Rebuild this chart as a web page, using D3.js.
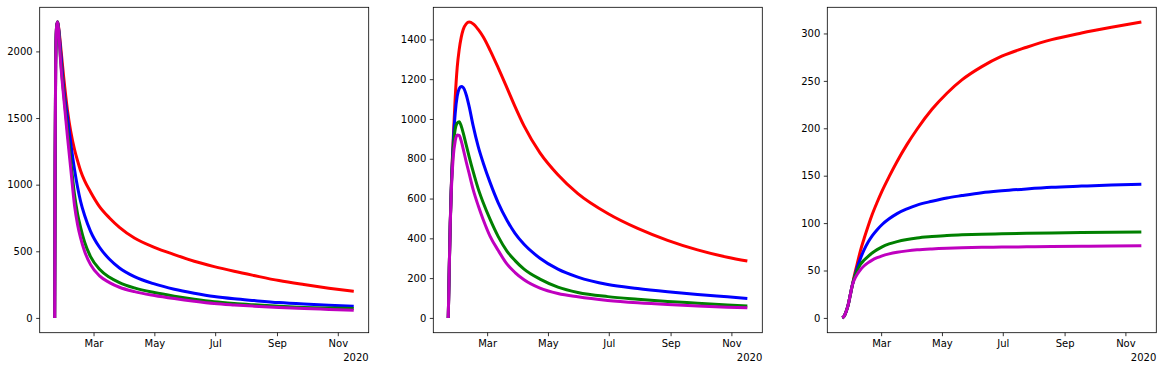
<!DOCTYPE html>
<html lang="en">
<head>
<meta charset="UTF-8">
<title>Three panels</title>
<script src="https://d3js.org/d3.v7.min.js"></script>
<style>
  body { margin: 0; background: #fff; }
  svg text { font-family: "DejaVu Sans", sans-serif; font-size: 10px; fill: #000; }
</style>
</head>
<body>
<script>
// day 0 = 22 Jan 2020
var startDate = Date.UTC(2020, 0, 22);
var dayMs = 86400000;

var seriesColors = ["#ff0000", "#0000ff", "#008000", "#bf00bf"];
var monthTicks = ["2020-03-01", "2020-05-01", "2020-07-01", "2020-09-01", "2020-11-01"];
var offsetLabel = "2020";

// panel 1
var days1 = [0, 0.5, 1, 2, 3, 4, 6, 9, 13, 16, 20, 23, 26, 30, 36, 45, 55, 65, 80, 100, 120, 140, 160, 180, 200, 225, 250, 275, 300];
var red1 = [0, 1200, 1900, 2190, 2220, 2180, 2040, 1810, 1550, 1405, 1262, 1178, 1105, 1030, 945, 835, 750, 680, 600, 530, 475, 425, 385, 350, 318, 280, 250, 223, 199];
var blue1 = [0, 1200, 1900, 2190, 2220, 2170, 2000, 1730, 1500, 1320, 1110, 980, 875, 770, 650, 530, 440, 375, 310, 255, 215, 185, 160, 143, 130, 115, 104, 95, 88];
var green1 = [0, 1200, 1900, 2190, 2220, 2160, 1940, 1690, 1400, 1190, 920, 780, 680, 570, 460, 365, 305, 265, 225, 190, 163, 140, 121, 108, 98, 87, 79, 74, 70];
var magenta1 = [0, 1200, 1900, 2190, 2220, 2150, 1920, 1660, 1350, 1130, 840, 700, 600, 500, 400, 315, 265, 230, 197, 168, 145, 125, 108, 97, 88, 78, 70, 64, 58];
var yTicks1 = [0, 500, 1000, 1500, 2000];

// panel 2
var days2 = [0, 1, 2, 3, 5, 7, 9, 11, 13, 15, 18, 21, 25, 30, 35, 42, 50, 59, 67, 76, 92, 110, 130, 160, 190, 220, 250, 280, 300];
var red2 = [0, 250, 480, 650, 900, 1110, 1260, 1350, 1410, 1450, 1478, 1487, 1478, 1450, 1413, 1345, 1258, 1155, 1062, 965, 830, 720, 625, 525, 450, 390, 342, 305, 286];
var blue2 = [0, 250, 480, 650, 880, 1030, 1115, 1152, 1163, 1158, 1122, 1062, 965, 862, 780, 680, 580, 490, 425, 370, 300, 245, 205, 168, 148, 132, 118, 106, 98];
var green2 = [0, 250, 470, 640, 850, 950, 980, 986, 965, 930, 870, 810, 735, 650, 580, 495, 410, 335, 288, 245, 195, 155, 128, 107, 94, 83, 74, 65, 60];
var magenta2 = [0, 250, 470, 630, 810, 890, 920, 918, 890, 850, 785, 725, 645, 565, 495, 410, 340, 270, 228, 192, 150, 123, 106, 88, 76, 67, 60, 54, 51];
var yTicks2 = [0, 200, 400, 600, 800, 1000, 1200, 1400];

// panel 3
var days3 = [0, 2, 4, 6, 8, 10, 12, 15, 18, 22, 26, 30, 35, 40, 47, 55, 65, 75, 90, 105, 120, 140, 160, 185, 210, 240, 270, 300];
var red3 = [0, 2, 7, 14, 24, 34, 44, 57, 70, 84, 97, 109, 122, 134, 149, 165, 183, 199, 220, 237, 251, 265, 276, 285.5, 293.5, 300.5, 306.5, 312];
var blue3 = [0, 2, 7, 14, 24, 34, 42, 53, 62, 72, 80, 86.5, 93, 98.5, 104.5, 110, 115, 119, 123, 126.5, 129, 132, 134, 136, 137.7, 139, 140.2, 141];
var green3 = [0, 2, 7, 14, 24, 34, 42, 50, 56, 61, 65, 68.5, 72, 75, 78, 80.5, 82.7, 84.3, 85.8, 87, 87.6, 88.2, 88.7, 89.2, 89.6, 90, 90.3, 90.5];
var magenta3 = [0, 2, 7, 14, 24, 34, 40, 46, 50.5, 55, 58.3, 61, 63.5, 65.5, 67.5, 69.2, 70.7, 71.8, 72.8, 73.5, 74, 74.4, 74.7, 75, 75.3, 75.5, 75.8, 76];
var yTicks3 = [0, 50, 100, 150, 200, 250, 300];

var panels = [
    {days: days1, series: [red1, blue1, green1, magenta1], ticks: yTicks1, left: 39.7},
    {days: days2, series: [red2, blue2, green2, magenta2], ticks: yTicks2, left: 433.3},
    {days: days3, series: [red3, blue3, green3, magenta3], ticks: yTicks3, left: 827.3}
];

var W = 1162, H = 370;
var plotW = 329, plotTop = 7.3, plotH = 325.4;

var svg = d3.select("body").append("svg")
    .attr("width", W)
    .attr("height", H);

panels.forEach(function(p) {
    var g = svg.append("g").attr("transform", "translate(" + p.left + "," + plotTop + ")");

    var dates = p.days.map(function(d) { return new Date(startDate + d * dayMs); });

    // 5% margins like matplotlib autoscale
    var xExt = d3.extent(dates);
    var xPad = (xExt[1] - xExt[0]) * 0.05;
    var x = d3.scaleUtc()
        .domain([new Date(+xExt[0] - xPad), new Date(+xExt[1] + xPad)])
        .range([0, plotW]);

    var allVals = d3.merge(p.series);
    var yExt = d3.extent(allVals);
    var yPad = (yExt[1] - yExt[0]) * 0.05;
    var y = d3.scaleLinear()
        .domain([yExt[0] - yPad, yExt[1] + yPad])
        .range([plotH, 0]);

    var line = d3.line()
        .x(function(d) { return x(d[0]); })
        .y(function(d) { return y(d[1]); })
        .curve(d3.curveMonotoneX);

    p.series.forEach(function(vals, i) {
        var pts = vals.map(function(v, k) { return [dates[k], v]; });
        g.append("path")
            .attr("d", line(pts))
            .attr("fill", "none")
            .attr("stroke", seriesColors[i])
            .attr("stroke-width", 3)
            .attr("stroke-linejoin", "round")
            .attr("stroke-linecap", "butt");
    });

    // axes
    var xAxis = g.append("g")
        .attr("transform", "translate(0," + plotH + ")")
        .call(d3.axisBottom(x)
            .tickValues(monthTicks.map(function(s) { return new Date(s + "T00:00:00Z"); }))
            .tickFormat(d3.utcFormat("%b"))
            .tickSize(3.5)
            .tickPadding(3.5));

    var yAxis = g.append("g")
        .call(d3.axisLeft(y)
            .tickValues(p.ticks)
            .tickFormat(d3.format("d"))
            .tickSize(3.5)
            .tickPadding(3.5));

    [xAxis, yAxis].forEach(function(a) {
        a.select(".domain").remove();
        a.selectAll(".tick line").attr("stroke", "#000").attr("stroke-width", 0.8);
        a.selectAll(".tick text").attr("fill", "#000").style("font-size", "10px");
    });

    // frame
    g.append("rect")
        .attr("x", 0).attr("y", 0)
        .attr("width", plotW).attr("height", plotH)
        .attr("fill", "none")
        .attr("stroke", "#000")
        .attr("stroke-width", 0.8);

    // date offset label
    g.append("text")
        .attr("x", plotW)
        .attr("y", plotH + 28.5)
        .attr("text-anchor", "end")
        .text(offsetLabel);
});
</script>
</body>
</html>
